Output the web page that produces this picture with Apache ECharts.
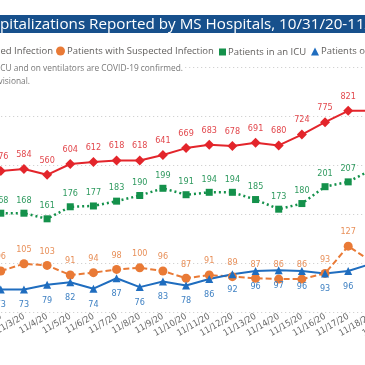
<!DOCTYPE html>
<html><head><meta charset="utf-8">
<script src="https://cdn.jsdelivr.net/npm/echarts@6/dist/echarts.min.js"></script>
<style>html,body{margin:0;padding:0;background:#fff;overflow:hidden}#c{width:365px;height:365px}</style>
</head><body><div id="c"></div>
<script>
const categories = ['11/2/20','11/3/20','11/4/20','11/5/20','11/6/20','11/7/20','11/8/20','11/9/20','11/10/20','11/11/20','11/12/20','11/13/20','11/14/20','11/15/20','11/16/20','11/17/20','11/18/20','11/19/20'];
const confirmed = [576,584,560,604,612,618,618,641,669,683,678,691,680,724,775,821,822,null];
const suspected = [96,105,103,91,94,98,100,96,87,91,89,87,86,86,93,127,108,null];
const icu = [168,168,161,176,177,183,190,199,191,194,194,185,173,180,201,207,222,null];
const ventilators = [73,73,79,82,74,87,76,83,78,86,92,96,97,96,93,96,105,null];
const seriesNames = ['Patients with Confirmed Infection','Patients with Suspected Infection','Patients in an ICU','Patients on Ventilators'];
const titleText = 'COVID-19 Hospitalizations Reported by MS Hospitals, 10/31/20-11/19/20';
const noteLines = ['Note: Patients in an ICU and on ventilators are COVID-19 confirmed.','Data for the most recent days are provisional.'];
const lastLabeledIndex = 15;

const UI = '"Open Sans", "Noto Sans", sans-serif';
const NUM = '"DejaVu Sans Condensed", "DejaVu Sans", sans-serif';
const mctx = document.createElement('canvas').getContext('2d');
function tw(t, size, fam){ mctx.font = size + 'px ' + fam; return mctx.measureText(t).width; }
function fit(t, target, fam){ return target / tw(t, 100, fam) * 100; }

const visTitle = titleText.slice(titleText.indexOf('pitalizations'), titleText.indexOf('-11') + 3);
const titleFs = fit(visTitle, 365, UI);
const titleX = -tw(titleText.slice(0, titleText.indexOf('pitalizations')), titleFs, UI);
const legendFs = fit(seriesNames[1], 147, UI);
const noteFs = fit('CU and on ventilators are COVID-19 confirmed.', 183, UI);

const C = {red:'#e3252b', orange:'#e97a36', green:'#14914b', blue:'#1f6dbf'};
const LC = {red:'#e2474c', orange:'#e8905a', green:'#2f9a5f', blue:'#3f81c3'};

function pts(arr){ return arr.map((v,i) => i > lastLabeledIndex ? {value:v, label:{show:false}} : v); }

const chart = echarts.init(document.getElementById('c'), null, {renderer:'canvas'});
function lbl(col, pos, d){ return {show:true, position:pos, color:col, fontSize:9, fontFamily:NUM, distance:d}; }
const legendBase = {orient:'horizontal', padding:0, itemGap:0, textStyle:{fontSize:legendFs, fontFamily:UI, color:'#605e5c', padding:[0,0,0,-3]}};
chart.setOption({
  animation:false,
  backgroundColor:'#fff',
  grid:{left:-10.8, top:67, width:416.9, height:245, containLabel:false, outerBoundsMode:'none'},
  legend:[
    Object.assign({}, legendBase, {data:[{name:seriesNames[0], icon:'diamond'}], right:312, top:46, itemWidth:9, itemHeight:9}),
    Object.assign({}, legendBase, {data:[{name:seriesNames[1], icon:'circle'}], left:56, top:46, itemWidth:9, itemHeight:9}),
    Object.assign({}, legendBase, {data:[{name:seriesNames[2], icon:'rect'}], left:219, top:47, itemWidth:7, itemHeight:7}),
    Object.assign({}, legendBase, {data:[{name:seriesNames[3], icon:'triangle'}], left:311, top:46.5, itemWidth:8, itemHeight:8})
  ],
  xAxis:{type:'category', data:categories, boundaryGap:true,
    axisLine:{show:false}, axisTick:{show:false},
    axisLabel:{interval:0, rotate:30, margin:4, color:'#666', fontSize:9, fontFamily:NUM, hideOverlap:false}},
  yAxis:[
    {type:'value', min:0, max:1000, interval:200, axisLabel:{show:false}, axisLine:{show:false}, axisTick:{show:false},
      splitLine:{show:true, lineStyle:{color:'#c8c8c8', width:1, type:[1,3]}}},
    {type:'value', min:45, max:350, show:false, splitLine:{show:false}}
  ],
  series:[
    {name:seriesNames[0], type:'line', yAxisIndex:0, data:pts(confirmed), symbol:'diamond', symbolSize:10, color:C.red,
      lineStyle:{width:2, color:C.red}, itemStyle:{color:C.red}, label:lbl(LC.red,'top',5)},
    {name:seriesNames[1], type:'line', yAxisIndex:1, data:pts(suspected), symbol:'circle', symbolSize:9, color:C.orange,
      lineStyle:{width:2, color:C.orange, type:[6,3]}, itemStyle:{color:C.orange}, label:lbl(LC.orange,'top',5)},
    {name:seriesNames[2], type:'line', yAxisIndex:1, data:pts(icu), symbol:'rect', symbolSize:7, color:C.green,
      lineStyle:{width:2.5, color:C.green, type:[2,3]}, itemStyle:{color:C.green}, label:lbl(LC.green,'top',5)},
    {name:seriesNames[3], type:'line', yAxisIndex:1, data:pts(ventilators), symbol:'triangle', symbolSize:8, color:C.blue,
      lineStyle:{width:2, color:C.blue}, itemStyle:{color:C.blue}, label:lbl(LC.blue,'bottom',7)}
  ],
  graphic:[
    {type:'rect', z:100, shape:{x:0, y:15, width:365, height:18}, style:{fill:'#17508c'}},
    {type:'text', z:101, x:titleX, y:24.5, style:{text:titleText, fill:'#fff', fontSize:titleFs, fontFamily:UI, align:'left', verticalAlign:'middle'}},
    {type:'text', z:101, x:185, y:68.5, style:{text:noteLines[0], fill:'#777', fontSize:noteFs, fontFamily:UI, align:'right', verticalAlign:'middle', backgroundColor:'#fff', padding:[1,2,1,2]}},
    {type:'text', z:101, x:30, y:81.5, style:{text:noteLines[1], fill:'#777', fontSize:noteFs, fontFamily:UI, align:'right', verticalAlign:'middle'}}
  ]
});
</script></body></html>
